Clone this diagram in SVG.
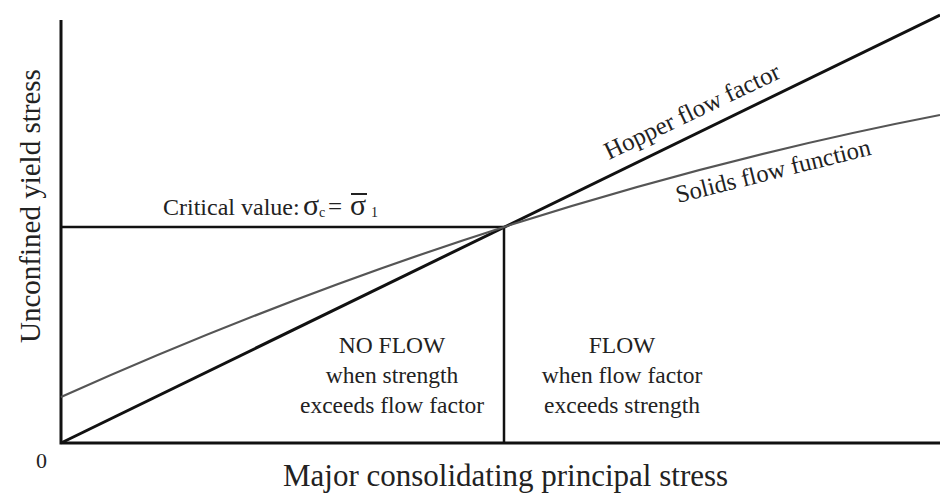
<svg xmlns="http://www.w3.org/2000/svg" width="940" height="500" viewBox="0 0 940 500">
<style>
text{font-family:"Liberation Serif","DejaVu Serif",serif;fill:#222}
.axis{stroke:#111;stroke-width:3;fill:none}
.thin{stroke:#111;stroke-width:2.5;fill:none}
.sff{stroke:#555;stroke-width:2.2;fill:none}
.lab{font-size:23.5px}
</style>
<rect width="940" height="500" fill="#fff"/>
<g id="connectors">
<path class="axis" d="M61,20 V443 H940"/>
<path class="thin" d="M61,227 H504 V443"/>
<path class="axis" d="M61,443 L940,15"/>
<path id="solids-curve" class="sff" d="M61,397 Q500.5,200.2 940,115"/>
</g>
<g id="y-axis-label"><text font-size="29" transform="translate(40,343) rotate(-90)">Unconfined yield stress</text></g>
<g id="x-axis-label"><text font-size="31" x="283" y="486">Major consolidating principal stress</text></g>
<g id="origin"><text font-size="22" x="36" y="468">0</text></g>
<g id="critical-value">
<text font-size="24" x="163" y="215">Critical value:</text>
<text font-size="30" x="303" y="215">σ</text>
<text font-size="14" x="319" y="217">c</text>
<text font-size="25" x="328" y="215">=</text>
<text font-size="30" x="350" y="215">σ</text>
<line x1="351" y1="194" x2="367" y2="194" stroke="#222" stroke-width="2"/>
<text font-size="14" x="371" y="217">1</text>
</g>
<g id="hopper-label"><text font-size="25" transform="translate(609,160) rotate(-25.5)">Hopper flow factor</text></g>
<g id="solids-label"><text font-size="24.5" transform="translate(678,203) rotate(-14)">Solids flow function</text></g>
<g id="no-flow" text-anchor="middle" class="lab">
<text x="392" y="353">NO FLOW</text>
<text x="392" y="383">when strength</text>
<text x="392" y="413">exceeds flow factor</text>
</g>
<g id="flow" text-anchor="middle" class="lab">
<text x="622" y="353">FLOW</text>
<text x="622" y="383">when flow factor</text>
<text x="622" y="413">exceeds strength</text>
</g>
</svg>
